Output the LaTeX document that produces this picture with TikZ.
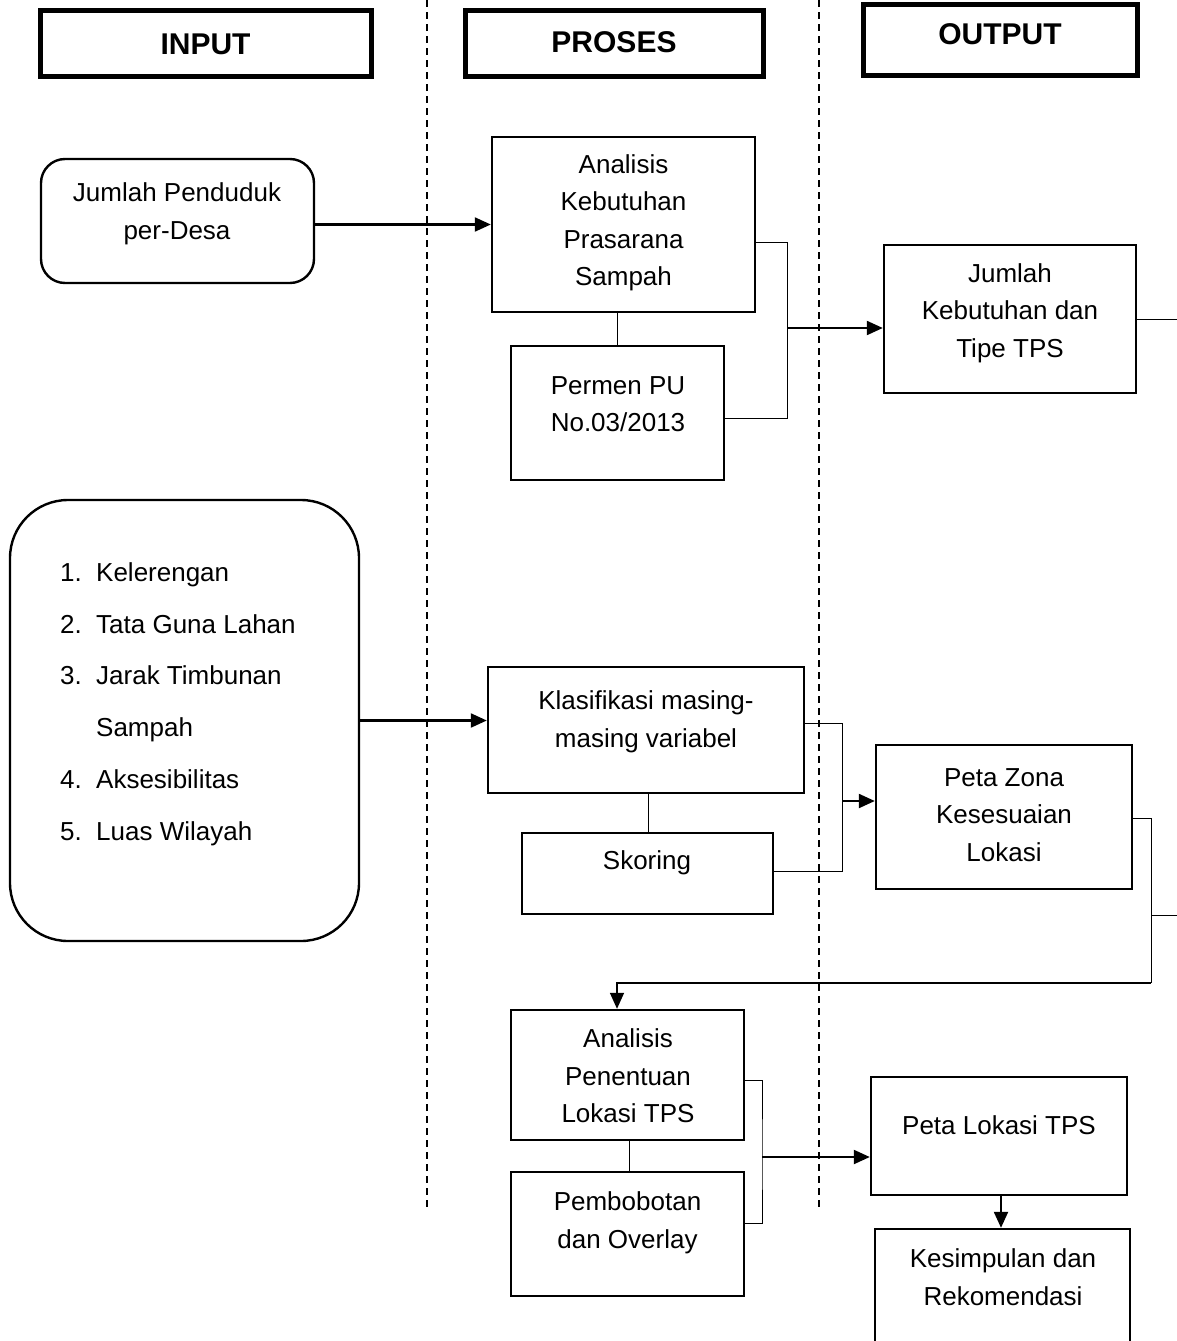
\documentclass[tikz,border=0pt]{standalone}
\usepackage{fontspec}
\setmainfont{Liberation Sans}
\usetikzlibrary{arrows.meta}
\begin{document}
\begin{tikzpicture}[x=1pt,y=-1pt,
  box/.style={draw,line width=2.4pt,inner sep=0pt},
  rbox/.style={box,rounded corners=24pt},
  hbox/.style={draw,line width=5pt,inner sep=0pt},
  txt/.style={align=center,inner sep=0pt,font=\fontsize{26}{37.5}\selectfont},
  htxt/.style={inner sep=0pt,font=\fontsize{30}{34}\selectfont\bfseries},
  conn/.style={line width=1pt},
  arr/.style={line width=2.2pt,-{Triangle[length=16pt,width=14pt]}},
  sep/.style={line width=1.4pt,dash pattern=on 7pt off 5pt}]
\useasboundingbox (0,0) rectangle (1177,1341);
\fill[white] (0,0) rectangle (1177,1341);

% separators
\coordinate (s1t) at (427,0); \coordinate (s1b) at (427,1210);
\coordinate (s2t) at (819,0); \coordinate (s2b) at (819,1210);
\draw[sep] (s1t) -- (s1b);
\draw[sep] (s2t) -- (s2b);

% headers
\node[hbox,minimum width=331pt,minimum height=66pt] (hin) at (205.5,43) {};
\node[htxt] (hint) at (205.5,44) {INPUT};
\node[hbox,minimum width=298pt,minimum height=66pt] (hpr) at (614,43) {};
\node[htxt] (hprt) at (614,42) {PROSES};
\node[hbox,minimum width=274pt,minimum height=71pt] (hout) at (1000,39.5) {};
\node[htxt] (houtt) at (1000,34) {OUTPUT};

% input 1
\node[rbox,minimum width=273pt,minimum height=124pt] (jp) at (177.5,221) {};
\node[txt] (jpt) at (177,214) {Jumlah Penduduk\\per-Desa};

% proses 1
\node[box,minimum width=263pt,minimum height=175pt] (ak) at (623.5,224.5) {};
\node[txt] (akt) at (623.5,223) {Analisis\\Kebutuhan\\Prasarana\\Sampah};
\node[box,minimum width=213pt,minimum height=134pt] (pp) at (617.5,413) {};
\node[txt] (ppt) at (618,404) {Permen PU\\No.03/2013};

% output 1
\node[box,minimum width=252pt,minimum height=148pt] (jk) at (1010,319) {};
\node[txt] (jkt) at (1010,313) {Jumlah\\Kebutuhan dan\\Tipe TPS};

% input 2
\node[box,rounded corners=58pt,minimum width=349pt,minimum height=441pt] (lb) at (184.5,720.5) {};
\node[anchor=west,align=left,inner sep=0pt,font=\fontsize{26}{51.8}\selectfont] (lbt) at (60,704)
 {\makebox[36pt][l]{1.}Kelerengan\\
  \makebox[36pt][l]{2.}Tata Guna Lahan\\
  \makebox[36pt][l]{3.}Jarak Timbunan\\
  \makebox[36pt][l]{}Sampah\\
  \makebox[36pt][l]{4.}Aksesibilitas\\
  \makebox[36pt][l]{5.}Luas Wilayah};

% proses 2
\node[box,minimum width=316pt,minimum height=126pt] (kl) at (646,730) {};
\node[txt] (klt) at (646,722) {Klasifikasi masing-\\masing variabel};
\node[box,minimum width=251pt,minimum height=81pt] (sk) at (647.5,873.5) {};
\node[txt] (skt) at (647,863) {Skoring};

% output 2
\node[box,minimum width=256pt,minimum height=144pt] (pz) at (1004,817) {};
\node[txt] (pzt) at (1004,815) {Peta Zona\\Kesesuaian\\Lokasi};

% proses 3
\node[box,minimum width=233pt,minimum height=130pt] (ap) at (627.5,1075) {};
\node[txt] (apt) at (628,1076) {Analisis\\Penentuan\\Lokasi TPS};
\node[box,minimum width=233pt,minimum height=124pt] (pb) at (627.5,1234) {};
\node[txt] (pbt) at (627.5,1223) {Pembobotan\\dan Overlay};

% output 3
\node[box,minimum width=256pt,minimum height=118pt] (pl) at (999,1136) {};
\node[txt] (plt) at (999,1125) {Peta Lokasi TPS};
\node[box,minimum width=255pt,minimum height=140pt] (ks) at (1002.5,1299) {};
\node[txt] (kst) at (1003,1277) {Kesimpulan dan\\Rekomendasi};

% connectors group 1
\draw[arr] (jp.east |- ak.west) -- (ak.west);
\draw[conn] (ak.south -| pp.north) -- (pp.north);
\coordinate (br1) at (787,328);
\draw[conn] ([yshift=-17.5pt]ak.east) -| (br1) |- ([yshift=-5pt]pp.east);
\draw[arr] (br1) -- (jk.west |- br1);
\coordinate (e1) at (1177,319);
\draw[conn] (jk.east) -- (e1);

% connectors group 2
\draw[arr] (lb.east) -- (kl.west |- lb.east);
\draw[conn] (kl.south -| 648,0) -- (sk.north -| 648,0);
\coordinate (br2) at (842,801);
\draw[conn] ([yshift=7pt]kl.east) -| (br2) |- ([yshift=2pt]sk.east);
\draw[arr] (br2) -- (pz.west |- br2);
\coordinate (c3) at (1151,915);
\coordinate (e2) at (1177,915);
\coordinate (c4) at (1151,983);
\draw[conn] ([yshift=-1pt]pz.east) -| (c4);
\draw[conn] (c3) -- (e2);
\draw[arr,line width=1.6pt] (c4) -| ([xshift=-10.5pt]ap.north);

% connectors group 3
\draw[conn] (ap.south -| 629,0) -- (pb.north -| 629,0);
\coordinate (br4) at (762,1157);
\draw[conn] ([yshift=-5pt]ap.east) -| (br4) |- ([yshift=11pt]pb.east);
\draw[arr] (br4) -- (pl.west |- br4);
\draw[arr] (pl.south -| 1001,0) -- (ks.north -| 1001,0);
\end{tikzpicture}
\end{document}
